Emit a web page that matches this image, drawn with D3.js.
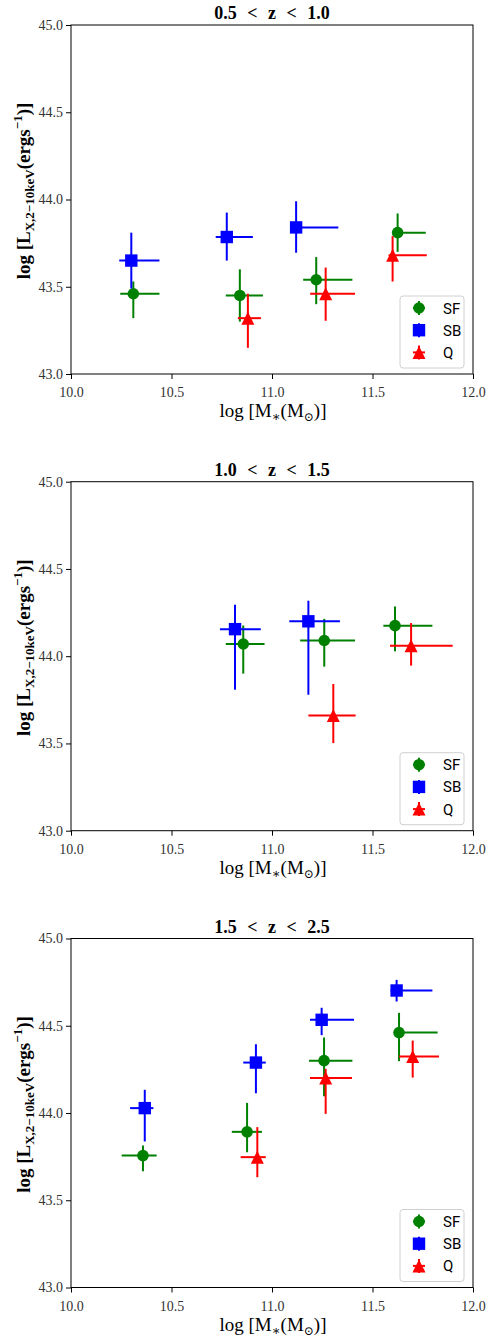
<!DOCTYPE html>
<html>
<head>
<meta charset="utf-8">
<script src="https://cdn.jsdelivr.net/npm/d3@7"></script>
<style>
body { margin: 0; background: #fff; }
svg { display: block; }
</style>
</head>
<body>
<svg id="fig" width="488" height="1340"></svg>
<script>
// redshift bins, one panel each
var titles = ["0.5 < z < 1.0", "1.0 < z < 1.5", "1.5 < z < 2.5"];
var xTicks = [10.0, 10.5, 11.0, 11.5, 12.0];
var yTicks = [43.0, 43.5, 44.0, 44.5, 45.0];
var names = ["SF", "SB", "Q"];
var colors = ["#008000", "#0000ff", "#ff0000"];

// [logM, logLx, xlo, xhi, ylo, yhi]
var sfLow = [[10.31, 43.46, 10.245, 10.44, 43.32, 43.53],
             [10.84, 43.45, 10.77, 10.955, 43.30, 43.60],
             [11.22, 43.54, 11.155, 11.40, 43.40, 43.67],
             [11.625, 43.81, 11.60, 11.765, 43.70, 43.92]];
var sbLow = [[10.30, 43.65, 10.24, 10.44, 43.49, 43.81],
             [10.775, 43.785, 10.72, 10.905, 43.65, 43.925],
             [11.12, 43.84, 11.09, 11.33, 43.695, 43.99]];
var qLow  = [[10.88, 43.32, 10.83, 10.945, 43.15, 43.46],
             [11.267, 43.46, 11.19, 11.413, 43.305, 43.61],
             [11.60, 43.68, 11.58, 11.77, 43.53, 43.79]];

var sfMid = [[10.857, 44.07, 10.77, 10.963, 43.90, 44.176],
             [11.26, 44.09, 11.14, 11.413, 43.94, 44.214],
             [11.612, 44.175, 11.554, 11.798, 44.028, 44.285]];
var sbMid = [[10.816, 44.155, 10.741, 10.944, 43.808, 44.295],
             [11.181, 44.20, 11.086, 11.338, 43.779, 44.318]];
var qMid  = [[11.305, 43.66, 11.181, 11.416, 43.502, 43.841],
             [11.692, 44.06, 11.587, 11.899, 43.946, 44.19]];

var sfHigh = [[10.358, 43.756, 10.252, 10.426, 43.666, 43.814],
              [10.876, 43.892, 10.80, 10.95, 43.775, 44.058],
              [11.259, 44.30, 11.184, 11.40, 44.096, 44.433],
              [11.632, 44.461, 11.632, 11.824, 44.297, 44.574]];
var sbHigh = [[10.367, 44.028, 10.294, 10.41, 43.837, 44.133],
              [10.92, 44.289, 10.857, 10.969, 44.113, 44.394],
              [11.247, 44.534, 11.189, 11.408, 44.446, 44.603],
              [11.62, 44.702, 11.59, 11.798, 44.639, 44.763]];
var qHigh  = [[10.927, 43.747, 10.844, 10.969, 43.632, 43.919],
              [11.267, 44.20, 11.189, 11.398, 43.995, 44.253],
              [11.70, 44.324, 11.632, 11.831, 44.203, 44.415]];

var panelData = [[sfLow, sbLow, qLow], [sfMid, sbMid, qMid], [sfHigh, sbHigh, qHigh]];

var svg = d3.select("#fig");
var left = 71, w = 402, h = 349;
var tops = [25, 481.7, 938.5];
var serif = "'Liberation Serif', 'DejaVu Serif', serif";

var x = d3.scaleLinear().domain([10, 12]).range([0, w]);
var y = d3.scaleLinear().domain([43, 45]).range([h, 0]);

function marker(g, type, color, cx, cy){
	if(type == 0){
		g.append("circle").attr("cx", cx).attr("cy", cy).attr("r", 5.8).attr("fill", color);
	}else if(type == 1){
		g.append("rect").attr("x", cx-6.2).attr("y", cy-6.2).attr("width", 12.4).attr("height", 12.4).attr("fill", color);
	}else{
		var s = 6.5;
		g.append("path").attr("d", "M"+cx+","+(cy-s)+"L"+(cx+s)+","+(cy+s)+"L"+(cx-s)+","+(cy+s)+"Z").attr("fill", color);
	}
}

for(var p = 0; p < 3; p++){
	var g = svg.append("g").attr("transform", "translate(" + left + "," + tops[p] + ")");

	// axes
	var xa = g.append("g").attr("transform", "translate(0," + h + ")")
		.call(d3.axisBottom(x).tickValues(xTicks).tickFormat(d3.format(".1f")).tickSizeOuter(0).tickSize(5).tickPadding(4));
	var ya = g.append("g")
		.call(d3.axisLeft(y).tickValues(yTicks).tickFormat(d3.format(".1f")).tickSizeOuter(0).tickSize(5).tickPadding(3));
	[xa, ya].forEach(function(a){
		a.select(".domain").remove();
		a.selectAll("text").attr("font-family", serif).attr("font-size", 14).attr("fill", "#333");
		a.selectAll("line").attr("stroke", "#000");
	});
	xa.selectAll("text").attr("dy", "1em");
	g.append("rect").attr("width", w).attr("height", h).attr("fill", "none").attr("stroke", "#000").attr("stroke-width", 1);

	// error bars + markers
	for(var s = 0; s < 3; s++){
		var pts = panelData[p][s];
		var sg = g.append("g");
		for(var k = 0; k < pts.length; k++){
			var d = pts[k];
			sg.append("line").attr("x1", x(d[2])).attr("x2", x(d[3])).attr("y1", y(d[1])).attr("y2", y(d[1]))
				.attr("stroke", colors[s]).attr("stroke-width", 2);
			sg.append("line").attr("x1", x(d[0])).attr("x2", x(d[0])).attr("y1", y(d[4])).attr("y2", y(d[5]))
				.attr("stroke", colors[s]).attr("stroke-width", 2);
			marker(sg, s, colors[s], x(d[0]), y(d[1]));
		}
	}

	// legend
	var lg = g.append("g").attr("transform", "translate(" + (w - 9 - 64) + "," + (h - 6 - 72) + ")");
	lg.append("rect").attr("width", 64).attr("height", 72).attr("rx", 3)
		.attr("fill", "#fff").attr("fill-opacity", 0.8).attr("stroke", "#d0d0d0");
	for(var s = 0; s < 3; s++){
		var ly = 12 + s * 22.2;
		lg.append("line").attr("x1", 19).attr("x2", 19).attr("y1", ly-7).attr("y2", ly+7).attr("stroke", colors[s]).attr("stroke-width", 2);
		lg.append("line").attr("x1", 13).attr("x2", 25).attr("y1", ly).attr("y2", ly).attr("stroke", colors[s]).attr("stroke-width", 2);
		marker(lg, s, colors[s], 19, ly);
		lg.append("text").attr("x", 43).attr("y", ly + 5.5).text(names[s])
			.attr("font-family", "Roboto, 'DejaVu Sans', sans-serif").attr("font-size", 15).attr("fill", "#000");
	}

	// title
	g.append("text").attr("x", w / 2).attr("y", -6).attr("text-anchor", "middle")
		.attr("font-family", serif).attr("font-weight", "bold").attr("font-size", 18)
		.attr("word-spacing", 6).text(titles[p]);

	// x label
	var xl = g.append("text").attr("x", w / 2 + 1).attr("y", h + 43).attr("text-anchor", "middle")
		.attr("font-family", serif).attr("font-size", 19);
	xl.append("tspan").text("log [M");
	xl.append("tspan").attr("font-size", 13).attr("dy", 4).text("\u2217");
	xl.append("tspan").attr("dy", -4).text("(M");
	xl.append("tspan").attr("font-size", 12).attr("dy", 4).text("\u2299");
	xl.append("tspan").attr("dy", -4).text(")]");

	// y label
	var yl = g.append("text").attr("transform", "translate(" + (30 - left) + "," + 166 + ") rotate(-90)")
		.attr("text-anchor", "middle").attr("font-family", serif).attr("font-weight", "bold").attr("font-size", 19);
	yl.append("tspan").text("log [L");
	yl.append("tspan").attr("font-size", 13).attr("dy", 4).text("X,2\u221210keV");
	yl.append("tspan").attr("dy", -4).text("(ergs");
	yl.append("tspan").attr("font-size", 13).attr("dy", -8).text("\u22121");
	yl.append("tspan").attr("dy", 8).text(")]");
}
</script>
</body>
</html>
